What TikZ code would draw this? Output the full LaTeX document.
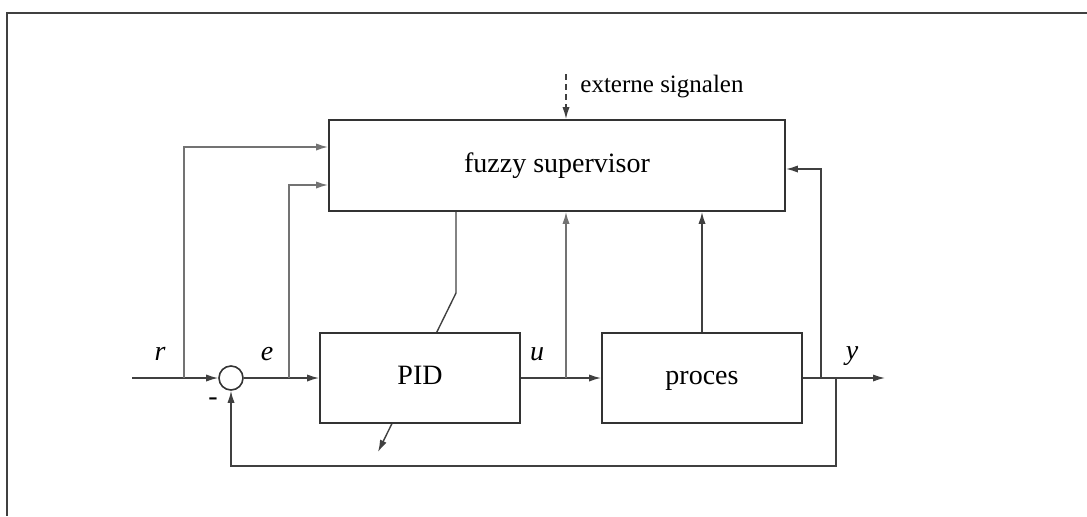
\documentclass[tikz,border=0pt]{standalone}
\usepackage{fontspec}
\setmainfont{Liberation Serif}
\usetikzlibrary{arrows.meta, backgrounds}

\tikzset{
  blok/.style={draw=black!80, line width=0.9pt, fill=white, text height=9.5pt, text depth=3pt, font=\fontsize{14}{16}\selectfont},
  som/.style={draw=black!80, line width=0.8pt, circle, fill=white, inner sep=0pt, minimum size=12pt},
  sig/.style={draw=black!75, line width=0.7pt, -{Latex[length=6pt,width=3.6pt]}},
  tak/.style={sig, draw=black!55},
  lbl/.style={font=\fontsize{14}{16}\selectfont\itshape},
}

\begin{document}
\begin{tikzpicture}[x=0.5pt, y=-0.5pt]
\useasboundingbox (0,0) rectangle (1087,516);

% frame
\draw[black!75, line width=1.1pt] (1087,13) -- (7,13) -- (7,516);

% blocks
\node[blok, minimum width=228pt, minimum height=45.5pt] (sup) at (557,165.5) {fuzzy supervisor};
\node[blok, minimum width=100pt, minimum height=45pt] (pid) at (420,378) {PID};
\node[blok, minimum width=100pt, minimum height=45pt] (proc) at (702,378) {proces};
\node[som] (sum) at (231,378) {};
\node[font=\fontsize{12.5}{14}\selectfont] (ext) at (662,87) {externe signalen};

% labels
\node[lbl] (r) at (160,354) {r};
\node[lbl] (e) at (267,354) {e};
\node[lbl] (u) at (537,354) {u};
\node[lbl] (y) at (852,356) {y};
\node[font=\fontsize{14}{16}\selectfont] (min) at (213,402) {-};

% branch points
\coordinate (in) at (132,378);
\coordinate (rtak) at (184,378);
\coordinate (etak) at (289,378);
\coordinate (utak) at (566,378);
\coordinate (ytak) at (821,378);
\coordinate (terug) at (836,378);
\coordinate (onder) at (836,466);
\coordinate (uit) at (885,378);
\coordinate (extin) at (566,74);
\coordinate (knik) at (456,293);
\coordinate (stel) at (378,452);

% main loop
\draw[sig] (in) -- (sum);
\draw[sig] (sum) -- (pid);
\draw[sig] (pid) -- (proc);
\draw[sig] (proc) -- (uit);
\draw[sig] (terug) -- (onder) -| (sum.south);

% signals to the supervisor
\draw[tak] (rtak) |- ([yshift=9.25pt]sup.west);
\draw[tak] (etak) |- ([yshift=-9.75pt]sup.west);
\draw[tak] (utak) -- (sup.south -| utak);
\draw[sig] (proc.north) -- (proc.north |- sup.south);
\draw[sig] (ytak) |- ([yshift=-1.75pt]sup.east);
\draw[sig, densely dashed] (extin) -- (extin |- sup.north);

% tuning of the PID
\begin{scope}[on background layer]
\draw[sig] (sup.south -| knik) -- (knik) -- (stel);
\end{scope}
\end{tikzpicture}
\end{document}
